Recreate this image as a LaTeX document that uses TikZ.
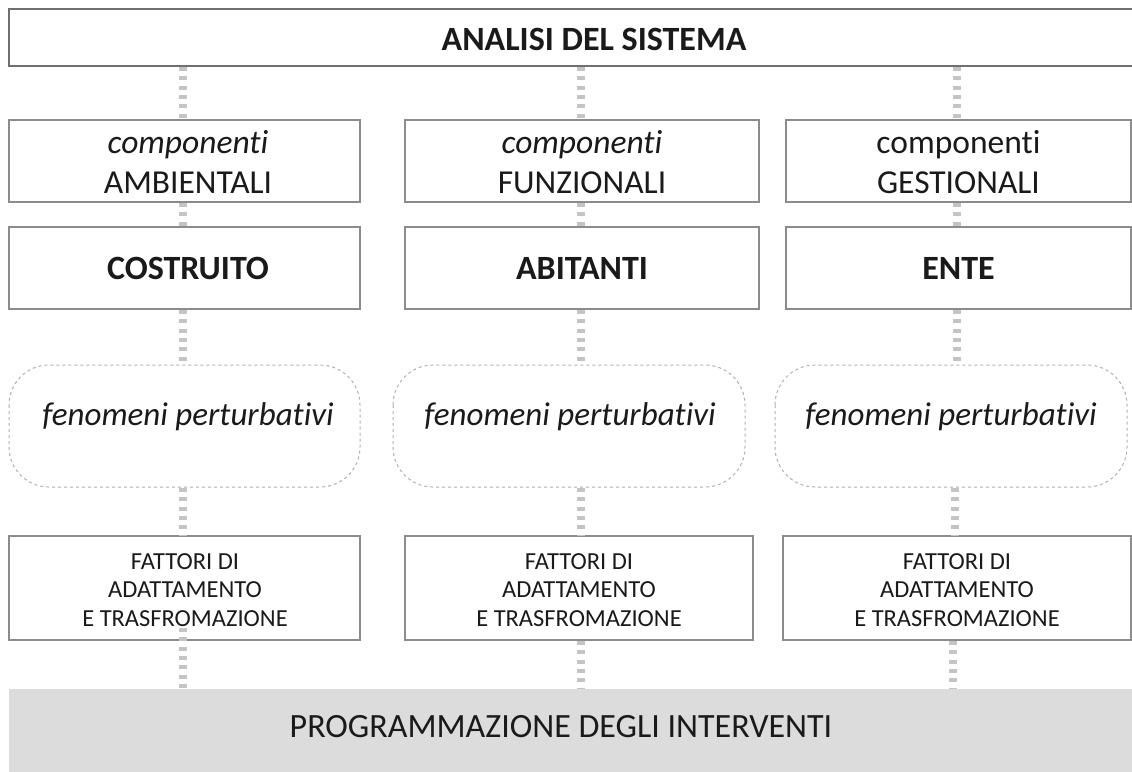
\documentclass[tikz,border=0pt]{standalone}
\usepackage{fontspec}
\setmainfont[Ligatures={NoCommon}]{Carlito}
\usetikzlibrary{positioning}
\definecolor{boxline}{HTML}{8C8C8C}
\definecolor{topline}{HTML}{707070}
\definecolor{conn}{HTML}{C4C4C4}
\definecolor{dashline}{HTML}{B0B0B0}
\definecolor{bottomfill}{HTML}{DCDCDC}
\definecolor{txt}{HTML}{1A1A1A}
\begin{document}
\begin{tikzpicture}[x=1pt,y=-1pt,
  every node/.style={inner sep=0pt, outer sep=0pt, text=txt},
  plainbox/.style={draw=boxline, line width=1.3pt, fill=white},
  topbox/.style={draw=topline, line width=1.6pt, fill=white},
  cloudbox/.style={draw=dashline, line width=1pt, dash pattern=on 3pt off 3pt, fill=white, rounded corners=40pt},
  connector/.style={draw=conn, line width=8pt, dash pattern=on 4pt off 5.3pt},
  txtc/.style={font=\fontsize{33.5}{40}\selectfont, align=center},
  txtb/.style={font=\fontsize{34}{40}\selectfont\bfseries, align=center},
  txts/.style={font=\fontsize{24.5}{28.5}\selectfont, align=center},
  txtf/.style={font=\fontsize{33}{36}\selectfont\itshape, align=center}
]
\useasboundingbox (0,0) rectangle (1132,771);
\fill[white] (0,0) rectangle (1132,771);

% top box
\path[topbox] (9,9) rectangle (1140,66);
\node[txtb] (title) at (594,39) {ANALISI DEL SISTEMA};

% component boxes
\path[plainbox] (9,120) rectangle (360,202);
\path[plainbox] (405,120) rectangle (759,202);
\path[plainbox] (786,120) rectangle (1131,202);
\node[txtc] (comp1) at (188,162) {\itshape componenti\\AMBIENTALI};
\node[txtc] (comp2) at (582,162) {\itshape componenti\\FUNZIONALI};
\node[txtc] (comp3) at (958.5,162) {componenti\\GESTIONALI};

% main boxes
\path[plainbox] (9,227) rectangle (360,309);
\path[plainbox] (405,227) rectangle (759,309);
\path[plainbox] (786,227) rectangle (1131,309);
\node[txtb] (main1) at (188,268) {COSTRUITO};
\node[txtb] (main2) at (582,268) {ABITANTI};
\node[txtb] (main3) at (958.5,268) {ENTE};

% fenomeni
\path[cloudbox] (9,365) rectangle (360,487);
\path[cloudbox] (393,365) rectangle (745,487);
\path[cloudbox] (775,365) rectangle (1127,487);
\node[txtf] (fen1) at (188,417) {fenomeni perturbativi};
\node[txtf] (fen2) at (570,417) {fenomeni perturbativi};
\node[txtf] (fen3) at (951,417) {fenomeni perturbativi};

% fattori
\path[plainbox] (9,536) rectangle (360,640);
\path[plainbox] (405,536) rectangle (753,640);
\path[plainbox] (783,536) rectangle (1131,640);
\node[txts] (fat1) at (185,590) {FATTORI DI\\ADATTAMENTO\\E TRASFROMAZIONE};
\node[txts] (fat2) at (579,590) {FATTORI DI\\ADATTAMENTO\\E TRASFROMAZIONE};
\node[txts] (fat3) at (957,590) {FATTORI DI\\ADATTAMENTO\\E TRASFROMAZIONE};

% bottom
\fill[bottomfill] (9,689) rectangle (1140,780);
\node[font=\fontsize{34}{40}\selectfont] (prog) at (561,727) {PROGRAMMAZIONE DEGLI INTERVENTI};

% connector segments between boxes
\path[connector] (183,67) -- (183,119);
\path[connector] (581,67) -- (581,119);
\path[connector] (957,67) -- (957,119);
\path[connector] (183,203) -- (183,226);
\path[connector] (581,203) -- (581,226);
\path[connector] (957,203) -- (957,226);
\path[connector] (183,310) -- (183,364);
\path[connector] (581,310) -- (581,364);
\path[connector] (957,310) -- (957,364);
\path[connector] (183,488) -- (183,535);
\path[connector] (581,488) -- (581,535);
\path[connector] (955,488) -- (955,535);
\path[connector] (183,628) -- (183,689);
\path[connector] (581,641) -- (581,689);
\path[connector] (953,641) -- (953,689);
\end{tikzpicture}
\end{document}
